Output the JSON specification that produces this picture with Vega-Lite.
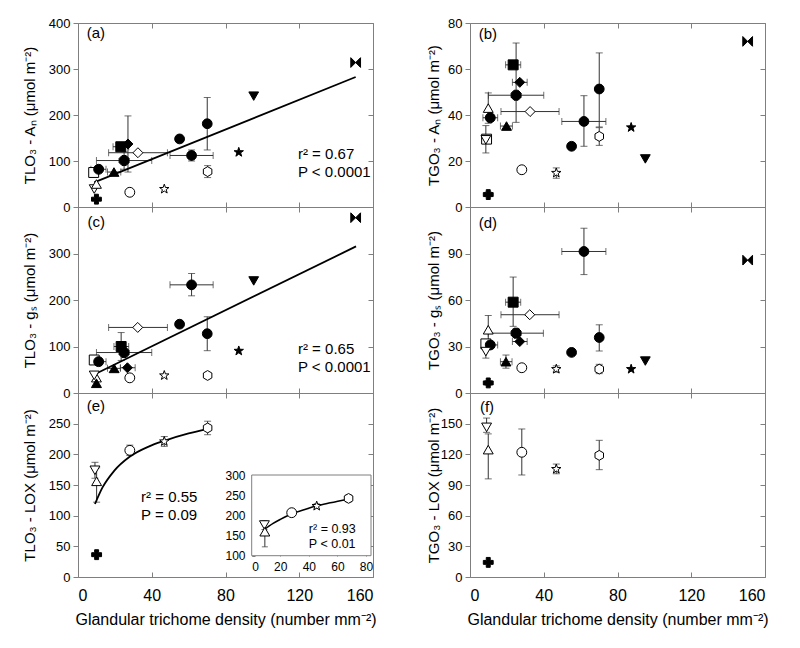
{
"$schema": "https://vega.github.io/schema/vega-lite/v6.json",
"padding": {"top": 16, "left": 21, "right": 5, "bottom": 5},
"datasets": {
"pts": [
{"p":"a","g":"G1","x":150.6,"y":314},
{"p":"a","g":"G2","x":95.3,"y":241},
{"p":"a","g":"G3","x":70.1,"y":181,"ylo":124,"yhi":238},
{"p":"a","g":"G4","x":55.1,"y":148,"ylo":141,"yhi":154},
{"p":"a","g":"G5","x":61.6,"y":112,"xlo":49.9,"xhi":73.3,"ylo":100,"yhi":124},
{"p":"a","g":"G6","x":87.2,"y":119},
{"p":"a","g":"G7","x":70.3,"y":77,"ylo":64,"yhi":90},
{"p":"a","g":"G8","x":46.8,"y":39},
{"p":"a","g":"G9","x":28.1,"y":32},
{"p":"a","g":"G10","x":10,"y":17},
{"p":"a","g":"G11","x":8.8,"y":39},
{"p":"a","g":"G12","x":10,"y":50},
{"p":"a","g":"G13","x":8.5,"y":75},
{"p":"a","g":"G14","x":11.2,"y":82,"xlo":7,"xhi":15.2},
{"p":"a","g":"G15","x":19.5,"y":76,"xlo":16,"xhi":23.2},
{"p":"a","g":"G16","x":32.5,"y":118,"xlo":16.6,"xhi":48.5},
{"p":"a","g":"G17","x":27.1,"y":137,"ylo":76,"yhi":198},
{"p":"a","g":"G18","x":23.2,"y":131,"xlo":19,"xhi":27.5},
{"p":"a","g":"G19","x":25,"y":101,"xlo":10,"xhi":40,"ylo":82,"yhi":120},
{"p":"b","g":"G1","x":150.6,"y":72},
{"p":"b","g":"G18","x":23.4,"y":61.8,"xlo":19.3,"xhi":27.5},
{"p":"b","g":"G17","x":27,"y":54.2,"xlo":23,"xhi":31},
{"p":"b","g":"G19","x":25,"y":48.6,"xlo":10,"xhi":40,"ylo":36.8,"yhi":71.3},
{"p":"b","g":"G16","x":32.6,"y":41.5,"xlo":16.8,"xhi":48.3},
{"p":"b","g":"G12","x":9.9,"y":43,"ylo":36.4,"yhi":49.6},
{"p":"b","g":"G13","x":9,"y":29.5},
{"p":"b","g":"G11","x":8.6,"y":29.2,"ylo":23.5,"yhi":35.4},
{"p":"b","g":"G14","x":11,"y":38.8,"xlo":7,"xhi":15},
{"p":"b","g":"G15","x":19.8,"y":35.2,"xlo":16.5,"xhi":23},
{"p":"b","g":"G3","x":70.1,"y":51.3,"ylo":34.8,"yhi":67},
{"p":"b","g":"G5","x":61.8,"y":37.2,"xlo":49.8,"xhi":73.7,"ylo":26.4,"yhi":48.4},
{"p":"b","g":"G7","x":70.1,"y":30.7,"ylo":26.8,"yhi":34.5},
{"p":"b","g":"G6","x":87.4,"y":34.6},
{"p":"b","g":"G2","x":95.1,"y":20.9},
{"p":"b","g":"G4","x":55.1,"y":26.4},
{"p":"b","g":"G9","x":28.1,"y":16.2},
{"p":"b","g":"G8","x":46.8,"y":14.8,"ylo":12.5,"yhi":17},
{"p":"b","g":"G10","x":9.9,"y":5.4,"ylo":4.5,"yhi":6.5},
{"p":"c","g":"G1","x":150.6,"y":377},
{"p":"c","g":"G2","x":95.3,"y":241},
{"p":"c","g":"G5","x":61.6,"y":232.6,"xlo":49.9,"xhi":73.3,"ylo":209,"yhi":257},
{"p":"c","g":"G4","x":55.1,"y":148},
{"p":"c","g":"G3","x":70.1,"y":127.5,"ylo":91,"yhi":164},
{"p":"c","g":"G16","x":32.4,"y":141,"xlo":16.6,"xhi":48.5},
{"p":"c","g":"G18","x":23.4,"y":100,"xlo":19.5,"xhi":27.5,"ylo":70,"yhi":130},
{"p":"c","g":"G19","x":25,"y":87,"xlo":10,"xhi":40},
{"p":"c","g":"G6","x":87.2,"y":90.6},
{"p":"c","g":"G13","x":8.8,"y":71},
{"p":"c","g":"G14","x":11.2,"y":67.4,"xlo":7,"xhi":15.2},
{"p":"c","g":"G15","x":19.6,"y":53,"xlo":16,"xhi":23},
{"p":"c","g":"G17","x":26.8,"y":54.3,"xlo":23,"xhi":31},
{"p":"c","g":"G9","x":28.1,"y":32.6},
{"p":"c","g":"G8","x":46.8,"y":37.7},
{"p":"c","g":"G7","x":70.3,"y":37.7},
{"p":"c","g":"G12","x":10,"y":33},
{"p":"c","g":"G11","x":8.8,"y":38},
{"p":"c","g":"G21","x":10,"y":21},
{"p":"d","g":"G5","x":61.8,"y":91.3,"xlo":49.8,"xhi":73.7,"ylo":76.4,"yhi":106.3},
{"p":"d","g":"G1","x":150.6,"y":85.7},
{"p":"d","g":"G18","x":23.4,"y":58.6,"xlo":19.3,"xhi":27.5,"ylo":43,"yhi":74.8},
{"p":"d","g":"G16","x":32.4,"y":50.5,"xlo":16.8,"xhi":48.3},
{"p":"d","g":"G12","x":9.9,"y":40.8,"ylo":32,"yhi":50},
{"p":"d","g":"G19","x":25,"y":38.6,"xlo":9.9,"xhi":39.8,"ylo":36,"yhi":41.5},
{"p":"d","g":"G17","x":27,"y":33.2,"xlo":23,"xhi":31},
{"p":"d","g":"G3","x":70.1,"y":35.8,"ylo":27.1,"yhi":44},
{"p":"d","g":"G13","x":8.6,"y":31.7},
{"p":"d","g":"G14","x":11,"y":31,"xlo":7,"xhi":15},
{"p":"d","g":"G11","x":8.6,"y":26.7,"ylo":22.5,"yhi":31},
{"p":"d","g":"G4","x":55.1,"y":26.2},
{"p":"d","g":"G2","x":95.1,"y":20.6},
{"p":"d","g":"G15","x":19.5,"y":20.2,"xlo":16.5,"xhi":22.8,"ylo":16,"yhi":24.5},
{"p":"d","g":"G9","x":28.1,"y":16.3},
{"p":"d","g":"G8","x":46.8,"y":15.4,"ylo":13.5,"yhi":17.5},
{"p":"d","g":"G7","x":70.1,"y":15.4,"ylo":12.5,"yhi":18.5},
{"p":"d","g":"G6","x":87.4,"y":15.4},
{"p":"d","g":"G10","x":9.9,"y":6.5,"ylo":5,"yhi":8},
{"p":"e","g":"G7","x":70.3,"y":243,"ylo":232,"yhi":254},
{"p":"e","g":"G8","x":46.8,"y":221,"ylo":213,"yhi":229},
{"p":"e","g":"G9","x":28.1,"y":206.5,"ylo":198,"yhi":215},
{"p":"e","g":"G11","x":9.2,"y":174,"ylo":161,"yhi":187},
{"p":"e","g":"G12","x":10.1,"y":156,"ylo":122,"yhi":178},
{"p":"e","g":"G10","x":10.1,"y":36.4},
{"p":"ins","g":"G7","x":67.8,"y":242,"ylo":233,"yhi":251},
{"p":"ins","g":"G8","x":45.5,"y":223,"ylo":217,"yhi":229},
{"p":"ins","g":"G9","x":28,"y":206.6},
{"p":"ins","g":"G11","x":8.9,"y":176,"ylo":165,"yhi":187},
{"p":"ins","g":"G12","x":9.2,"y":159.5,"ylo":122,"yhi":180},
{"p":"f","g":"G11","x":9,"y":146.4,"ylo":141.5,"yhi":155.5},
{"p":"f","g":"G12","x":9.9,"y":124.6,"ylo":96,"yhi":140},
{"p":"f","g":"G9","x":28.1,"y":122,"ylo":99.8,"yhi":144.8},
{"p":"f","g":"G8","x":46.8,"y":105.6,"ylo":101,"yhi":110.5},
{"p":"f","g":"G7","x":70.1,"y":119,"ylo":105,"yhi":133.7},
{"p":"f","g":"G10","x":9.9,"y":14.3}
],
"lines": [
{"p":"a","x":8.8,"y":53.6},{"p":"a","x":150.6,"y":282.6},
{"p":"c","x":8.8,"y":39.9},{"p":"c","x":150.8,"y":315.2},
{"p":"e","x":9.2,"y":119},{"p":"e","x":13.3,"y":146},{"p":"e","x":19.6,"y":173},{"p":"e","x":28,"y":196},{"p":"e","x":38.6,"y":213},{"p":"e","x":46.8,"y":222},{"p":"e","x":60,"y":234},{"p":"e","x":70,"y":241},
{"p":"ins","x":8.5,"y":164},{"p":"ins","x":15,"y":180},{"p":"ins","x":20,"y":190},{"p":"ins","x":28,"y":204},{"p":"ins","x":36,"y":213},{"p":"ins","x":45,"y":223},{"p":"ins","x":55,"y":231},{"p":"ins","x":67.7,"y":240}
],
"txt": [
{"p":"a","x":4.7,"y":378,"t":"(a)"},
{"p":"b","x":4.7,"y":75.2,"t":"(b)"},
{"p":"c","x":5.2,"y":368,"t":"(c)"},
{"p":"d","x":4.7,"y":110,"t":"(d)"},
{"p":"e","x":4.7,"y":278,"t":"(e)"},
{"p":"f","x":5.4,"y":166,"t":"(f)"},
{"p":"a","x":119.3,"y":115,"t":"r² = 0.67"},
{"p":"a","x":119.3,"y":76,"t":"P < 0.0001"},
{"p":"c","x":119.3,"y":95,"t":"r² = 0.65"},
{"p":"c","x":119.3,"y":56,"t":"P < 0.0001"},
{"p":"e","x":34.2,"y":131,"t":"r² = 0.55"},
{"p":"e","x":34.2,"y":101,"t":"P = 0.09"},
{"p":"ins","x":40,"y":165,"t":"r² = 0.93"},
{"p":"ins","x":40,"y":129,"t":"P < 0.01"}
]
},
"columns": 2,
"spacing": {"row": 0, "column": 97},
"bounds": "flush",
"concat": [
{
"width": 295, "height": 184,
"resolve": {"scale": {"x": "independent", "y": "independent"}},
"layer": [
{"data":{"name":"pts"},"transform":[{"filter":"datum.p=='a' && isValid(datum.ylo)"}],"mark":{"type":"errorbar","ticks":{"size":7},"color":"#333"},"encoding":{"x":{"field":"x","type":"quantitative","scale":{"domain":[0,160]},"axis":null},"y":{"field":"ylo","type":"quantitative","scale":{"domain":[0,400]},"axis":null},"y2":{"field":"yhi"}}},
{"data":{"name":"pts"},"transform":[{"filter":"datum.p=='a' && isValid(datum.xlo)"}],"mark":{"type":"errorbar","ticks":{"size":7},"color":"#333"},"encoding":{"x":{"field":"xlo","type":"quantitative","scale":{"domain":[0,160]},"axis":null},"x2":{"field":"xhi"},"y":{"field":"y","type":"quantitative","scale":{"domain":[0,400]},"axis":null}}},
{"data":{"name":"lines"},"transform":[{"filter":"datum.p=='a'"}],"mark":{"type":"line","color":"black","strokeWidth":1.8},"encoding":{"x":{"field":"x","type":"quantitative","scale":{"domain":[0,160]},"axis":null},"y":{"field":"y","type":"quantitative","scale":{"domain":[0,400]},"axis":null}}},
{"data":{"name":"pts"},"transform":[{"filter":"datum.p=='a'"}],"mark":{"type":"point","filled":true,"stroke":"black","strokeWidth":1,"opacity":1},"encoding":{
"x":{"field":"x","type":"quantitative","scale":{"domain":[0,160]},"axis":{"orient":"bottom","values":[0,40,80,120,160],"labels":false,"title":null}},
"y":{"field":"y","type":"quantitative","scale":{"domain":[0,400]},"axis":{"orient":"left","values":[0,100,200,300,400],"title":"TLO₃ - Aₙ (μmol m⁻²)","titleX":-49,"titleY":92}},
"shape":{"field":"g","type":"nominal","legend":null,"scale":{"domain":["G1","G2","G3","G4","G5","G6","G7","G8","G9","G10","G11","G12","G13","G14","G15","G16","G17","G18","G19","G21"],"range":["M-1,-1L0,0L-1,1ZM1,-1L0,0L1,1Z","triangle-down","circle","circle","circle","M0,-1L0.235,-0.324L0.951,-0.309L0.38,0.124L0.588,0.809L0,0.4L-0.588,0.809L-0.38,0.124L-0.951,-0.309L-0.235,-0.324Z","M0,-1L0.866,-0.5L0.866,0.5L0,1L-0.866,0.5L-0.866,-0.5Z","M0,-1L0.235,-0.324L0.951,-0.309L0.38,0.124L0.588,0.809L0,0.4L-0.588,0.809L-0.38,0.124L-0.951,-0.309L-0.235,-0.324Z","circle","cross","triangle-down","triangle-up","square","circle","triangle-up","diamond","diamond","square","M-0.414,-1L0.414,-1L1,-0.414L1,0.414L0.414,1L-0.414,1L-1,0.414L-1,-0.414Z","triangle-up"]}},
"fill":{"field":"g","type":"nominal","legend":null,"scale":{"domain":["G1","G2","G3","G4","G5","G6","G7","G8","G9","G10","G11","G12","G13","G14","G15","G16","G17","G18","G19","G21"],"range":["black","black","black","black","black","black","white","white","white","black","white","white","white","black","black","white","black","black","black","black"]}},
"size":{"field":"g","type":"nominal","legend":null,"scale":{"domain":["G1","G2","G3","G4","G5","G6","G7","G8","G9","G10","G11","G12","G13","G14","G15","G16","G17","G18","G19","G21"],"range":[95,100,140,45,115,100,100,75,100,55,100,100,80,40,100,100,100,90,85,100]}}
}},
{"data":{"name":"txt"},"transform":[{"filter":"datum.p=='a'"}],"mark":{"type":"text","align":"left","baseline":"middle","fontSize":15},"encoding":{"x":{"field":"x","type":"quantitative","scale":{"domain":[0,160]},"axis":null},"y":{"field":"y","type":"quantitative","scale":{"domain":[0,400]},"axis":null},"text":{"field":"t"}}},
{"data":{"name":"pts"},"transform":[{"filter":"datum.p=='a'"}],"mark":{"type":"point","opacity":0},"encoding":{"x":{"field":"x","type":"quantitative","scale":{"domain":[0,160]},"axis":{"orient":"top","values":[0,40,80,120,160],"labels":false,"title":null}},"y":{"field":"y","type":"quantitative","scale":{"domain":[0,400]},"axis":{"orient":"right","values":[0,100,200,300,400],"labels":false,"title":null}}}}
]
},
{
"width": 295, "height": 184,
"resolve": {"scale": {"x": "independent", "y": "independent"}},
"layer": [
{"data":{"name":"pts"},"transform":[{"filter":"datum.p=='b' && isValid(datum.ylo)"}],"mark":{"type":"errorbar","ticks":{"size":7},"color":"#333"},"encoding":{"x":{"field":"x","type":"quantitative","scale":{"domain":[0,160]},"axis":null},"y":{"field":"ylo","type":"quantitative","scale":{"domain":[0,80]},"axis":null},"y2":{"field":"yhi"}}},
{"data":{"name":"pts"},"transform":[{"filter":"datum.p=='b' && isValid(datum.xlo)"}],"mark":{"type":"errorbar","ticks":{"size":7},"color":"#333"},"encoding":{"x":{"field":"xlo","type":"quantitative","scale":{"domain":[0,160]},"axis":null},"x2":{"field":"xhi"},"y":{"field":"y","type":"quantitative","scale":{"domain":[0,80]},"axis":null}}},
{"data":{"name":"pts"},"transform":[{"filter":"datum.p=='b'"}],"mark":{"type":"point","filled":true,"stroke":"black","strokeWidth":1,"opacity":1},"encoding":{
"x":{"field":"x","type":"quantitative","scale":{"domain":[0,160]},"axis":{"orient":"bottom","values":[0,40,80,120,160],"labels":false,"title":null}},
"y":{"field":"y","type":"quantitative","scale":{"domain":[0,80]},"axis":{"orient":"left","values":[0,20,40,60,80],"title":"TGO₃ - Aₙ (μmol m⁻²)","titleX":-37,"titleY":92}},
"shape":{"field":"g","type":"nominal","legend":null,"scale":{"domain":["G1","G2","G3","G4","G5","G6","G7","G8","G9","G10","G11","G12","G13","G14","G15","G16","G17","G18","G19","G21"],"range":["M-1,-1L0,0L-1,1ZM1,-1L0,0L1,1Z","triangle-down","circle","circle","circle","M0,-1L0.235,-0.324L0.951,-0.309L0.38,0.124L0.588,0.809L0,0.4L-0.588,0.809L-0.38,0.124L-0.951,-0.309L-0.235,-0.324Z","M0,-1L0.866,-0.5L0.866,0.5L0,1L-0.866,0.5L-0.866,-0.5Z","M0,-1L0.235,-0.324L0.951,-0.309L0.38,0.124L0.588,0.809L0,0.4L-0.588,0.809L-0.38,0.124L-0.951,-0.309L-0.235,-0.324Z","circle","cross","triangle-down","triangle-up","square","circle","triangle-up","diamond","diamond","square","M-0.414,-1L0.414,-1L1,-0.414L1,0.414L0.414,1L-0.414,1L-1,0.414L-1,-0.414Z","triangle-up"]}},
"fill":{"field":"g","type":"nominal","legend":null,"scale":{"domain":["G1","G2","G3","G4","G5","G6","G7","G8","G9","G10","G11","G12","G13","G14","G15","G16","G17","G18","G19","G21"],"range":["black","black","black","black","black","black","white","white","white","black","white","white","white","black","black","white","black","black","black","black"]}},
"size":{"field":"g","type":"nominal","legend":null,"scale":{"domain":["G1","G2","G3","G4","G5","G6","G7","G8","G9","G10","G11","G12","G13","G14","G15","G16","G17","G18","G19","G21"],"range":[95,100,140,45,115,100,100,75,100,55,100,100,80,40,100,100,100,90,85,100]}}
}},
{"data":{"name":"txt"},"transform":[{"filter":"datum.p=='b'"}],"mark":{"type":"text","align":"left","baseline":"middle","fontSize":15},"encoding":{"x":{"field":"x","type":"quantitative","scale":{"domain":[0,160]},"axis":null},"y":{"field":"y","type":"quantitative","scale":{"domain":[0,80]},"axis":null},"text":{"field":"t"}}},
{"data":{"name":"pts"},"transform":[{"filter":"datum.p=='b'"}],"mark":{"type":"point","opacity":0},"encoding":{"x":{"field":"x","type":"quantitative","scale":{"domain":[0,160]},"axis":{"orient":"top","values":[0,40,80,120,160],"labels":false,"title":null}},"y":{"field":"y","type":"quantitative","scale":{"domain":[0,80]},"axis":{"orient":"right","values":[0,20,40,60,80],"labels":false,"title":null}}}}
]
},
{
"width": 295, "height": 186,
"resolve": {"scale": {"x": "independent", "y": "independent"}},
"layer": [
{"data":{"name":"pts"},"transform":[{"filter":"datum.p=='c' && isValid(datum.ylo)"}],"mark":{"type":"errorbar","ticks":{"size":7},"color":"#333"},"encoding":{"x":{"field":"x","type":"quantitative","scale":{"domain":[0,160]},"axis":null},"y":{"field":"ylo","type":"quantitative","scale":{"domain":[0,400]},"axis":null},"y2":{"field":"yhi"}}},
{"data":{"name":"pts"},"transform":[{"filter":"datum.p=='c' && isValid(datum.xlo)"}],"mark":{"type":"errorbar","ticks":{"size":7},"color":"#333"},"encoding":{"x":{"field":"xlo","type":"quantitative","scale":{"domain":[0,160]},"axis":null},"x2":{"field":"xhi"},"y":{"field":"y","type":"quantitative","scale":{"domain":[0,400]},"axis":null}}},
{"data":{"name":"lines"},"transform":[{"filter":"datum.p=='c'"}],"mark":{"type":"line","color":"black","strokeWidth":1.8},"encoding":{"x":{"field":"x","type":"quantitative","scale":{"domain":[0,160]},"axis":null},"y":{"field":"y","type":"quantitative","scale":{"domain":[0,400]},"axis":null}}},
{"data":{"name":"pts"},"transform":[{"filter":"datum.p=='c'"}],"mark":{"type":"point","filled":true,"stroke":"black","strokeWidth":1,"opacity":1},"encoding":{
"x":{"field":"x","type":"quantitative","scale":{"domain":[0,160]},"axis":{"orient":"bottom","values":[0,40,80,120,160],"labels":false,"title":null}},
"y":{"field":"y","type":"quantitative","scale":{"domain":[0,400]},"axis":{"orient":"left","values":[0,100,200,300],"title":"TLO₃ - gₛ (μmol m⁻²)","titleX":-49,"titleY":93}},
"shape":{"field":"g","type":"nominal","legend":null,"scale":{"domain":["G1","G2","G3","G4","G5","G6","G7","G8","G9","G10","G11","G12","G13","G14","G15","G16","G17","G18","G19","G21"],"range":["M-1,-1L0,0L-1,1ZM1,-1L0,0L1,1Z","triangle-down","circle","circle","circle","M0,-1L0.235,-0.324L0.951,-0.309L0.38,0.124L0.588,0.809L0,0.4L-0.588,0.809L-0.38,0.124L-0.951,-0.309L-0.235,-0.324Z","M0,-1L0.866,-0.5L0.866,0.5L0,1L-0.866,0.5L-0.866,-0.5Z","M0,-1L0.235,-0.324L0.951,-0.309L0.38,0.124L0.588,0.809L0,0.4L-0.588,0.809L-0.38,0.124L-0.951,-0.309L-0.235,-0.324Z","circle","cross","triangle-down","triangle-up","square","circle","triangle-up","diamond","diamond","square","M-0.414,-1L0.414,-1L1,-0.414L1,0.414L0.414,1L-0.414,1L-1,0.414L-1,-0.414Z","triangle-up"]}},
"fill":{"field":"g","type":"nominal","legend":null,"scale":{"domain":["G1","G2","G3","G4","G5","G6","G7","G8","G9","G10","G11","G12","G13","G14","G15","G16","G17","G18","G19","G21"],"range":["black","black","black","black","black","black","white","white","white","black","white","white","white","black","black","white","black","black","black","black"]}},
"size":{"field":"g","type":"nominal","legend":null,"scale":{"domain":["G1","G2","G3","G4","G5","G6","G7","G8","G9","G10","G11","G12","G13","G14","G15","G16","G17","G18","G19","G21"],"range":[95,100,140,45,115,100,100,75,100,55,100,100,80,40,100,100,100,90,85,100]}}
}},
{"data":{"name":"txt"},"transform":[{"filter":"datum.p=='c'"}],"mark":{"type":"text","align":"left","baseline":"middle","fontSize":15},"encoding":{"x":{"field":"x","type":"quantitative","scale":{"domain":[0,160]},"axis":null},"y":{"field":"y","type":"quantitative","scale":{"domain":[0,400]},"axis":null},"text":{"field":"t"}}},
{"data":{"name":"pts"},"transform":[{"filter":"datum.p=='c'"}],"mark":{"type":"point","opacity":0},"encoding":{"x":{"field":"x","type":"quantitative","scale":{"domain":[0,160]},"axis":{"orient":"top","values":[0,40,80,120,160],"labels":false,"title":null}},"y":{"field":"y","type":"quantitative","scale":{"domain":[0,400]},"axis":{"orient":"right","values":[0,100,200,300],"labels":false,"title":null}}}}
]
},
{
"width": 295, "height": 186,
"resolve": {"scale": {"x": "independent", "y": "independent"}},
"layer": [
{"data":{"name":"pts"},"transform":[{"filter":"datum.p=='d' && isValid(datum.ylo)"}],"mark":{"type":"errorbar","ticks":{"size":7},"color":"#333"},"encoding":{"x":{"field":"x","type":"quantitative","scale":{"domain":[0,160]},"axis":null},"y":{"field":"ylo","type":"quantitative","scale":{"domain":[0,120]},"axis":null},"y2":{"field":"yhi"}}},
{"data":{"name":"pts"},"transform":[{"filter":"datum.p=='d' && isValid(datum.xlo)"}],"mark":{"type":"errorbar","ticks":{"size":7},"color":"#333"},"encoding":{"x":{"field":"xlo","type":"quantitative","scale":{"domain":[0,160]},"axis":null},"x2":{"field":"xhi"},"y":{"field":"y","type":"quantitative","scale":{"domain":[0,120]},"axis":null}}},
{"data":{"name":"pts"},"transform":[{"filter":"datum.p=='d'"}],"mark":{"type":"point","filled":true,"stroke":"black","strokeWidth":1,"opacity":1},"encoding":{
"x":{"field":"x","type":"quantitative","scale":{"domain":[0,160]},"axis":{"orient":"bottom","values":[0,40,80,120,160],"labels":false,"title":null}},
"y":{"field":"y","type":"quantitative","scale":{"domain":[0,120]},"axis":{"orient":"left","values":[0,30,60,90],"title":"TGO₃ - gₛ (μmol m⁻²)","titleX":-37,"titleY":93}},
"shape":{"field":"g","type":"nominal","legend":null,"scale":{"domain":["G1","G2","G3","G4","G5","G6","G7","G8","G9","G10","G11","G12","G13","G14","G15","G16","G17","G18","G19","G21"],"range":["M-1,-1L0,0L-1,1ZM1,-1L0,0L1,1Z","triangle-down","circle","circle","circle","M0,-1L0.235,-0.324L0.951,-0.309L0.38,0.124L0.588,0.809L0,0.4L-0.588,0.809L-0.38,0.124L-0.951,-0.309L-0.235,-0.324Z","M0,-1L0.866,-0.5L0.866,0.5L0,1L-0.866,0.5L-0.866,-0.5Z","M0,-1L0.235,-0.324L0.951,-0.309L0.38,0.124L0.588,0.809L0,0.4L-0.588,0.809L-0.38,0.124L-0.951,-0.309L-0.235,-0.324Z","circle","cross","triangle-down","triangle-up","square","circle","triangle-up","diamond","diamond","square","M-0.414,-1L0.414,-1L1,-0.414L1,0.414L0.414,1L-0.414,1L-1,0.414L-1,-0.414Z","triangle-up"]}},
"fill":{"field":"g","type":"nominal","legend":null,"scale":{"domain":["G1","G2","G3","G4","G5","G6","G7","G8","G9","G10","G11","G12","G13","G14","G15","G16","G17","G18","G19","G21"],"range":["black","black","black","black","black","black","white","white","white","black","white","white","white","black","black","white","black","black","black","black"]}},
"size":{"field":"g","type":"nominal","legend":null,"scale":{"domain":["G1","G2","G3","G4","G5","G6","G7","G8","G9","G10","G11","G12","G13","G14","G15","G16","G17","G18","G19","G21"],"range":[95,100,140,45,115,100,100,75,100,55,100,100,80,40,100,100,100,90,85,100]}}
}},
{"data":{"name":"txt"},"transform":[{"filter":"datum.p=='d'"}],"mark":{"type":"text","align":"left","baseline":"middle","fontSize":15},"encoding":{"x":{"field":"x","type":"quantitative","scale":{"domain":[0,160]},"axis":null},"y":{"field":"y","type":"quantitative","scale":{"domain":[0,120]},"axis":null},"text":{"field":"t"}}},
{"data":{"name":"pts"},"transform":[{"filter":"datum.p=='d'"}],"mark":{"type":"point","opacity":0},"encoding":{"x":{"field":"x","type":"quantitative","scale":{"domain":[0,160]},"axis":{"orient":"top","values":[0,40,80,120,160],"labels":false,"title":null}},"y":{"field":"y","type":"quantitative","scale":{"domain":[0,120]},"axis":{"orient":"right","values":[0,30,60,90],"labels":false,"title":null}}}}
]
},
{
"width": 295, "height": 184,
"resolve": {"scale": {"x": "independent", "y": "independent"}},
"layer": [
{"data":{"name":"pts"},"transform":[{"filter":"datum.p=='e' && isValid(datum.ylo)"}],"mark":{"type":"errorbar","ticks":{"size":7},"color":"#333"},"encoding":{"x":{"field":"x","type":"quantitative","scale":{"domain":[0,160]},"axis":null},"y":{"field":"ylo","type":"quantitative","scale":{"domain":[0,300]},"axis":null},"y2":{"field":"yhi"}}},
{"data":{"name":"lines"},"transform":[{"filter":"datum.p=='e'"}],"mark":{"type":"line","color":"black","strokeWidth":1.8,"interpolate":"monotone"},"encoding":{"x":{"field":"x","type":"quantitative","scale":{"domain":[0,160]},"axis":null},"y":{"field":"y","type":"quantitative","scale":{"domain":[0,300]},"axis":null}}},
{"data":{"name":"pts"},"transform":[{"filter":"datum.p=='e'"}],"mark":{"type":"point","filled":true,"stroke":"black","strokeWidth":1,"opacity":1},"encoding":{
"x":{"field":"x","type":"quantitative","scale":{"domain":[0,160]},"axis":{"orient":"bottom","values":[0,40,80,120,160],"title":"Glandular trichome density (number mm⁻²)"}},
"y":{"field":"y","type":"quantitative","scale":{"domain":[0,300]},"axis":{"orient":"left","values":[0,50,100,150,200,250],"title":"TLO₃ - LOX (μmol m⁻²)","titleX":-49,"titleY":92}},
"shape":{"field":"g","type":"nominal","legend":null,"scale":{"domain":["G1","G2","G3","G4","G5","G6","G7","G8","G9","G10","G11","G12","G13","G14","G15","G16","G17","G18","G19","G21"],"range":["M-1,-1L0,0L-1,1ZM1,-1L0,0L1,1Z","triangle-down","circle","circle","circle","M0,-1L0.235,-0.324L0.951,-0.309L0.38,0.124L0.588,0.809L0,0.4L-0.588,0.809L-0.38,0.124L-0.951,-0.309L-0.235,-0.324Z","M0,-1L0.866,-0.5L0.866,0.5L0,1L-0.866,0.5L-0.866,-0.5Z","M0,-1L0.235,-0.324L0.951,-0.309L0.38,0.124L0.588,0.809L0,0.4L-0.588,0.809L-0.38,0.124L-0.951,-0.309L-0.235,-0.324Z","circle","cross","triangle-down","triangle-up","square","circle","triangle-up","diamond","diamond","square","M-0.414,-1L0.414,-1L1,-0.414L1,0.414L0.414,1L-0.414,1L-1,0.414L-1,-0.414Z","triangle-up"]}},
"fill":{"field":"g","type":"nominal","legend":null,"scale":{"domain":["G1","G2","G3","G4","G5","G6","G7","G8","G9","G10","G11","G12","G13","G14","G15","G16","G17","G18","G19","G21"],"range":["black","black","black","black","black","black","white","white","white","black","white","white","white","black","black","white","black","black","black","black"]}},
"size":{"field":"g","type":"nominal","legend":null,"scale":{"domain":["G1","G2","G3","G4","G5","G6","G7","G8","G9","G10","G11","G12","G13","G14","G15","G16","G17","G18","G19","G21"],"range":[95,100,140,45,115,100,100,75,100,55,100,100,80,40,100,100,100,90,85,100]}}
}},
{"data":{"name":"txt"},"transform":[{"filter":"datum.p=='e'"}],"mark":{"type":"text","align":"left","baseline":"middle","fontSize":15},"encoding":{"x":{"field":"x","type":"quantitative","scale":{"domain":[0,160]},"axis":null},"y":{"field":"y","type":"quantitative","scale":{"domain":[0,300]},"axis":null},"text":{"field":"t"}}},
{"data":{"name":"pts"},"transform":[{"filter":"datum.p=='e'"}],"mark":{"type":"point","opacity":0},"encoding":{"x":{"field":"x","type":"quantitative","scale":{"domain":[0,160]},"axis":{"orient":"top","values":[0,40,80,120,160],"labels":false,"title":null}},"y":{"field":"y","type":"quantitative","scale":{"domain":[0,300]},"axis":{"orient":"right","values":[0,50,100,150,200,250],"labels":false,"title":null}}}},
{"data":{"values":[{}]},"mark":{"type":"rect","fill":"white","stroke":"#7f7f7f","strokeWidth":1},"encoding":{"x":{"datum":0,"type":"quantitative","scale":{"domain":[0,83.5],"range":[173.7,293],"nice":false,"zero":false},"axis":{"orient":"bottom","offset":-21,"values":[0,20,40,60,80],"title":null,"labels":true,"labelFontSize":12,"tickSize":-3,"labelPadding":8}},"x2":{"datum":83.5},"y":{"datum":100,"type":"quantitative","scale":{"domain":[100,300],"range":[162.7,82],"nice":false,"zero":false},"axis":{"orient":"left","offset":-174,"values":[100,150,200,250,300],"title":null,"labelFontSize":12,"tickSize":-3,"labelPadding":10}},"y2":{"datum":300}}},
{"data":{"name":"pts"},"transform":[{"filter":"datum.p=='ins' && isValid(datum.ylo)"}],"mark":{"type":"errorbar","ticks":{"size":6},"color":"#333"},"encoding":{"x":{"field":"x","type":"quantitative","scale":{"domain":[0,83.5],"range":[173.7,293],"nice":false,"zero":false},"axis":null},"y":{"field":"ylo","type":"quantitative","scale":{"domain":[100,300],"range":[162.7,82],"nice":false,"zero":false},"axis":null},"y2":{"field":"yhi"}}},
{"data":{"name":"lines"},"transform":[{"filter":"datum.p=='ins'"}],"mark":{"type":"line","color":"black","strokeWidth":1.6,"interpolate":"monotone"},"encoding":{"x":{"field":"x","type":"quantitative","scale":{"domain":[0,83.5],"range":[173.7,293],"nice":false,"zero":false},"axis":null},"y":{"field":"y","type":"quantitative","scale":{"domain":[100,300],"range":[162.7,82],"nice":false,"zero":false},"axis":null}}},
{"data":{"name":"pts"},"transform":[{"filter":"datum.p=='ins'"}],"mark":{"type":"point","filled":true,"stroke":"black","strokeWidth":1,"opacity":1},"encoding":{
"x":{"field":"x","type":"quantitative","scale":{"domain":[0,83.5],"range":[173.7,293],"nice":false,"zero":false},"axis":null},
"y":{"field":"y","type":"quantitative","scale":{"domain":[100,300],"range":[162.7,82],"nice":false,"zero":false},"axis":null},
"shape":{"field":"g","type":"nominal","legend":null,"scale":{"domain":["G1","G2","G3","G4","G5","G6","G7","G8","G9","G10","G11","G12","G13","G14","G15","G16","G17","G18","G19","G21"],"range":["M-1,-1L0,0L-1,1ZM1,-1L0,0L1,1Z","triangle-down","circle","circle","circle","M0,-1L0.235,-0.324L0.951,-0.309L0.38,0.124L0.588,0.809L0,0.4L-0.588,0.809L-0.38,0.124L-0.951,-0.309L-0.235,-0.324Z","M0,-1L0.866,-0.5L0.866,0.5L0,1L-0.866,0.5L-0.866,-0.5Z","M0,-1L0.235,-0.324L0.951,-0.309L0.38,0.124L0.588,0.809L0,0.4L-0.588,0.809L-0.38,0.124L-0.951,-0.309L-0.235,-0.324Z","circle","cross","triangle-down","triangle-up","square","circle","triangle-up","diamond","diamond","square","M-0.414,-1L0.414,-1L1,-0.414L1,0.414L0.414,1L-0.414,1L-1,0.414L-1,-0.414Z","triangle-up"]}},
"fill":{"field":"g","type":"nominal","legend":null,"scale":{"domain":["G1","G2","G3","G4","G5","G6","G7","G8","G9","G10","G11","G12","G13","G14","G15","G16","G17","G18","G19","G21"],"range":["black","black","black","black","black","black","white","white","white","black","white","white","white","black","black","white","black","black","black","black"]}},
"size":{"field":"g","type":"nominal","legend":null,"scale":{"domain":["G1","G2","G3","G4","G5","G6","G7","G8","G9","G10","G11","G12","G13","G14","G15","G16","G17","G18","G19","G21"],"range":[95,100,140,45,115,100,100,75,100,55,100,100,80,40,100,100,100,90,85,100]}}
}},
{"data":{"name":"txt"},"transform":[{"filter":"datum.p=='ins'"}],"mark":{"type":"text","align":"left","baseline":"middle","fontSize":12.5},"encoding":{"x":{"field":"x","type":"quantitative","scale":{"domain":[0,83.5],"range":[173.7,293],"nice":false,"zero":false},"axis":null},"y":{"field":"y","type":"quantitative","scale":{"domain":[100,300],"range":[162.7,82],"nice":false,"zero":false},"axis":null},"text":{"field":"t"}}}
]
},
{
"width": 295, "height": 184,
"resolve": {"scale": {"x": "independent", "y": "independent"}},
"layer": [
{"data":{"name":"pts"},"transform":[{"filter":"datum.p=='f' && isValid(datum.ylo)"}],"mark":{"type":"errorbar","ticks":{"size":7},"color":"#333"},"encoding":{"x":{"field":"x","type":"quantitative","scale":{"domain":[0,160]},"axis":null},"y":{"field":"ylo","type":"quantitative","scale":{"domain":[0,180]},"axis":null},"y2":{"field":"yhi"}}},
{"data":{"name":"pts"},"transform":[{"filter":"datum.p=='f'"}],"mark":{"type":"point","filled":true,"stroke":"black","strokeWidth":1,"opacity":1},"encoding":{
"x":{"field":"x","type":"quantitative","scale":{"domain":[0,160]},"axis":{"orient":"bottom","values":[0,40,80,120,160],"title":"Glandular trichome density (number mm⁻²)"}},
"y":{"field":"y","type":"quantitative","scale":{"domain":[0,180]},"axis":{"orient":"left","values":[0,30,60,90,120,150],"title":"TGO₃ - LOX (μmol m⁻²)","titleX":-37,"titleY":92}},
"shape":{"field":"g","type":"nominal","legend":null,"scale":{"domain":["G1","G2","G3","G4","G5","G6","G7","G8","G9","G10","G11","G12","G13","G14","G15","G16","G17","G18","G19","G21"],"range":["M-1,-1L0,0L-1,1ZM1,-1L0,0L1,1Z","triangle-down","circle","circle","circle","M0,-1L0.235,-0.324L0.951,-0.309L0.38,0.124L0.588,0.809L0,0.4L-0.588,0.809L-0.38,0.124L-0.951,-0.309L-0.235,-0.324Z","M0,-1L0.866,-0.5L0.866,0.5L0,1L-0.866,0.5L-0.866,-0.5Z","M0,-1L0.235,-0.324L0.951,-0.309L0.38,0.124L0.588,0.809L0,0.4L-0.588,0.809L-0.38,0.124L-0.951,-0.309L-0.235,-0.324Z","circle","cross","triangle-down","triangle-up","square","circle","triangle-up","diamond","diamond","square","M-0.414,-1L0.414,-1L1,-0.414L1,0.414L0.414,1L-0.414,1L-1,0.414L-1,-0.414Z","triangle-up"]}},
"fill":{"field":"g","type":"nominal","legend":null,"scale":{"domain":["G1","G2","G3","G4","G5","G6","G7","G8","G9","G10","G11","G12","G13","G14","G15","G16","G17","G18","G19","G21"],"range":["black","black","black","black","black","black","white","white","white","black","white","white","white","black","black","white","black","black","black","black"]}},
"size":{"field":"g","type":"nominal","legend":null,"scale":{"domain":["G1","G2","G3","G4","G5","G6","G7","G8","G9","G10","G11","G12","G13","G14","G15","G16","G17","G18","G19","G21"],"range":[95,100,140,45,115,100,100,75,100,55,100,100,80,40,100,100,100,90,85,100]}}
}},
{"data":{"name":"txt"},"transform":[{"filter":"datum.p=='f'"}],"mark":{"type":"text","align":"left","baseline":"middle","fontSize":15},"encoding":{"x":{"field":"x","type":"quantitative","scale":{"domain":[0,160]},"axis":null},"y":{"field":"y","type":"quantitative","scale":{"domain":[0,180]},"axis":null},"text":{"field":"t"}}},
{"data":{"name":"pts"},"transform":[{"filter":"datum.p=='f'"}],"mark":{"type":"point","opacity":0},"encoding":{"x":{"field":"x","type":"quantitative","scale":{"domain":[0,160]},"axis":{"orient":"top","values":[0,40,80,120,160],"labels":false,"title":null}},"y":{"field":"y","type":"quantitative","scale":{"domain":[0,180]},"axis":{"orient":"right","values":[0,30,60,90,120,150],"labels":false,"title":null}}}}
]
}
],
"config": {
"view": {"stroke": "#7f7f7f", "strokeWidth": 1},
"font": "Liberation Sans",
"axis": {"domain": false, "grid": false, "tickColor": "#7f7f7f", "tickWidth": 1, "labelColor": "black", "titleColor": "black", "labelFont": "Liberation Sans", "titleFont": "Liberation Sans", "titleFontWeight": "normal"},
"axisLeft": {"tickSize": 5, "labelPadding": 3, "labelFontSize": 13, "titleFontSize": 15, "titleAngle": 270, "titleAlign": "center", "titleBaseline": "middle"},
"axisBottom": {"tickSize": -5, "labelPadding": 15, "labelFontSize": 16, "titleFontSize": 16, "titlePadding": 8},
"axisTop": {"tickSize": -5, "labels": false},
"axisRight": {"tickSize": -5, "labels": false}
}
}
